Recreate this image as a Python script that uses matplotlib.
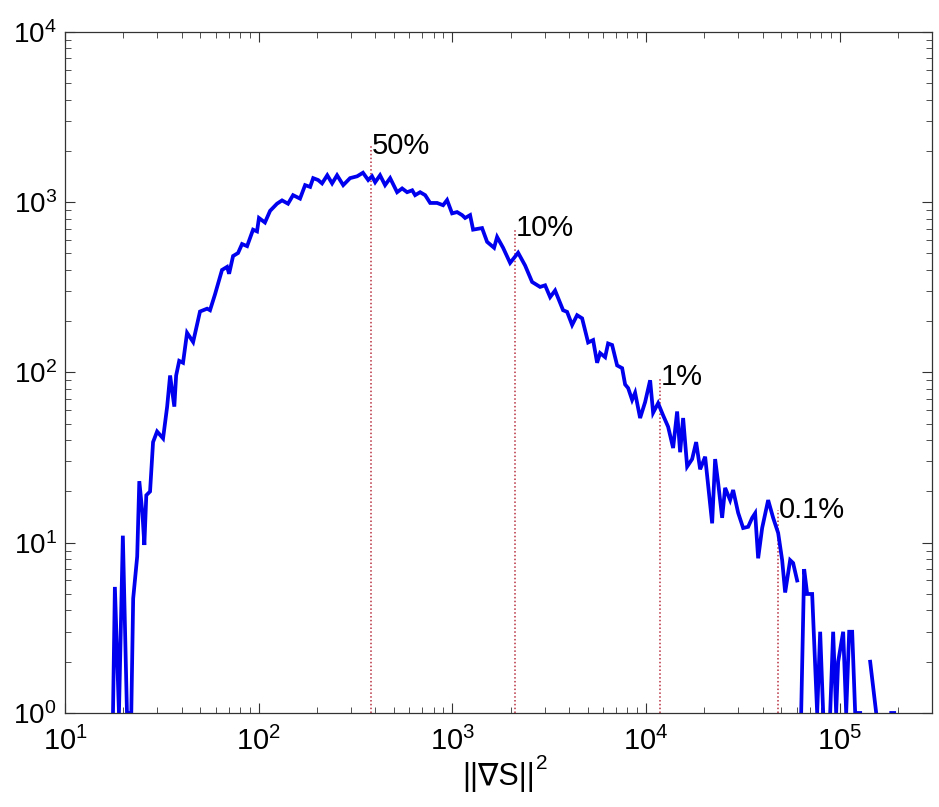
import numpy as np
import matplotlib
matplotlib.use("Agg")
import matplotlib.pyplot as plt
from matplotlib.ticker import LogLocator, LogFormatterMathtext, NullFormatter

plt.rcParams['font.family'] = ['Liberation Sans', 'DejaVu Sans']
plt.rcParams['mathtext.fontset'] = 'custom'
plt.rcParams['mathtext.rm'] = 'Liberation Sans'
plt.rcParams['mathtext.it'] = 'Liberation Sans:italic'

# histogram of ||grad S||^2 (bin centre, count); nan = empty bin
grad_sq = [17.7, 18.1, 19.0, 19.9, 20.9, 22.0, 22.5, 23.6, 24.2, 25.1,
           25.7, 26.3, 27.5, 28.5, 29.9, 32.1, 33.7, 34.9, 36.7, 37.5,
           38.9, 40.7, 42.7, 45.9, 49.8, 54.2, 56.1, 59.5, 64.7, 68.7,
           70.4, 73.8, 78.3, 82.1, 87.2, 93.6, 98.1, 100.4, 107.8, 114.6,
           124.4, 132.1, 141.8, 150.6, 163.6, 173.8, 184.5, 191.3, 202.9, 212.6,
           226.2, 239.6, 254.1, 273.4, 296.6, 322.7, 345.8, 368, 385.2, 399.7,
           423.7, 449.8, 477.7, 519, 550.8, 584.5, 621, 643, 682.3, 724.6,
           768.8, 835, 896.6, 940, 997.7, 1059, 1124, 1165, 1236, 1281,
           1425, 1513, 1644, 1704, 1830, 1989, 2188, 2377, 2584, 2841,
           3016, 3202, 3396, 3735, 3917, 4158, 4412, 4683, 5030, 5337,
           5597, 5800, 6157, 6378, 6690, 7101, 7538, 7809, 8093, 8486,
           8794, 9333, 9906, 10513, 10894, 11561, 12269, 13020, 13818, 14494,
           15020, 15566, 16326, 17326, 18172, 19055, 20223, 21979, 22773, 23600,
           24751, 25650, 27219, 28207, 29934, 31776, 33723, 35370, 36650, 37980,
           39830, 42780, 45400, 48190, 50530, 52360, 55560, 57570, 60390, 61840,
           63350, 65640, 68040, 72190, 76610, 79400, 82300, 85270, 89420, 92660,
           96030, 98350, 104380, 108180, 112100, 116180, 120400, 127790, 132430, 143900,
           154600, 160200, 184800, 191400]
counts = [1, 5.5, 1, 11, 1, 1, 4.7, 8.3, 23, 15,
          9.7, 19, 20, 39, 45, 41, 63, 96, 63, 96,
          117, 114, 171, 151, 228, 237, 232, 287, 400, 417,
          380, 483, 503, 568, 552, 690, 674, 808, 760, 890,
          980, 1025, 980, 1100, 1050, 1260, 1230, 1385, 1350, 1290,
          1440, 1290, 1440, 1260, 1385, 1420, 1490, 1350, 1420, 1310,
          1440, 1260, 1385, 1145, 1205, 1145, 1175, 1100, 1145, 1100,
          990, 990, 960, 1030, 860, 875, 840, 808, 840, 690,
          705, 585, 540, 625, 540, 440, 505, 425, 340, 318,
          325, 277, 303, 232, 227, 190, 217, 208, 150, 155,
          114, 130, 123, 148, 145, 110, 106, 85, 81, 69,
          76, 54, 67, 90, 58, 66, 56, 48, 36, 59,
          34, 54, 28, 31, 39, 27, 32, 13, 31, 22.5,
          14, 21, 17.8, 20.4, 15, 12.2, 12.4, 14, 14.9, 8.1,
          12.2, 17.8, 14, 11.4, 7.9, 5.1, 7.9, 7.6, 6.0, np.nan,
          1, 7, 5, 5, 1, 3, 1, np.nan, 1, 3,
          1, 2, 3, 1, 3, 3, 1, 1, np.nan, 2,
          1, np.nan, 1, 1]

# percentile markers
pct_labels = ['50%', '10%', '1%', '0.1%']
pct_x = [380, 2111, 11840, 48200]
pct_top = [2150, 706, 94, 15.5]

fig = plt.figure(figsize=(9.39, 8.07), dpi=100)
ax = fig.add_axes([0.0692, 0.1165, 0.9233, 0.8439])

for xv, top, lab in zip(pct_x, pct_top, pct_labels):
    ax.plot([xv, xv], [1, top], color='#b83040', ls=(0, (1, 1.5)), lw=1.1)
    ax.text(xv * 1.01, top, lab, fontsize=21, ha='left', va='center')

ax.plot(grad_sq, counts, color='#0000ee', lw=2.7, solid_joinstyle='miter')

ax.set_xscale('log')
ax.set_yscale('log')
ax.set_xlim(10, 3e5)
ax.set_ylim(1, 1e4)

ax.xaxis.set_major_locator(LogLocator(base=10, numticks=10))
ax.xaxis.set_minor_locator(LogLocator(base=10, subs=np.arange(2, 10), numticks=10))
ax.yaxis.set_major_locator(LogLocator(base=10, numticks=10))
ax.yaxis.set_minor_locator(LogLocator(base=10, subs=np.arange(2, 10), numticks=10))
ax.xaxis.set_major_formatter(LogFormatterMathtext())
ax.yaxis.set_major_formatter(LogFormatterMathtext())
ax.xaxis.set_minor_formatter(NullFormatter())
ax.yaxis.set_minor_formatter(NullFormatter())

ax.tick_params(which='both', direction='in', top=True, right=True, color='#333333')
ax.tick_params(which='major', length=7, width=0.8)
ax.tick_params(which='minor', length=4, width=0.6)
ax.tick_params(axis='x', which='major', labelsize=21, pad=10)
ax.tick_params(axis='y', which='major', labelsize=20, pad=6)
for sp in ax.spines.values():
    sp.set_color('#333333')
    sp.set_linewidth(0.9)

xlab = ax.set_xlabel('||∇S||', fontsize=22, labelpad=4,
                     family=['Liberation Sans', 'DejaVu Sans'])
# superscript 2, MATLAB-style
ax.annotate('2', xy=(1, 0.62), xycoords=xlab, xytext=(1, 0),
            textcoords='offset points', fontsize=15, ha='left', va='bottom')

fig.savefig('out.png', dpi=100)
